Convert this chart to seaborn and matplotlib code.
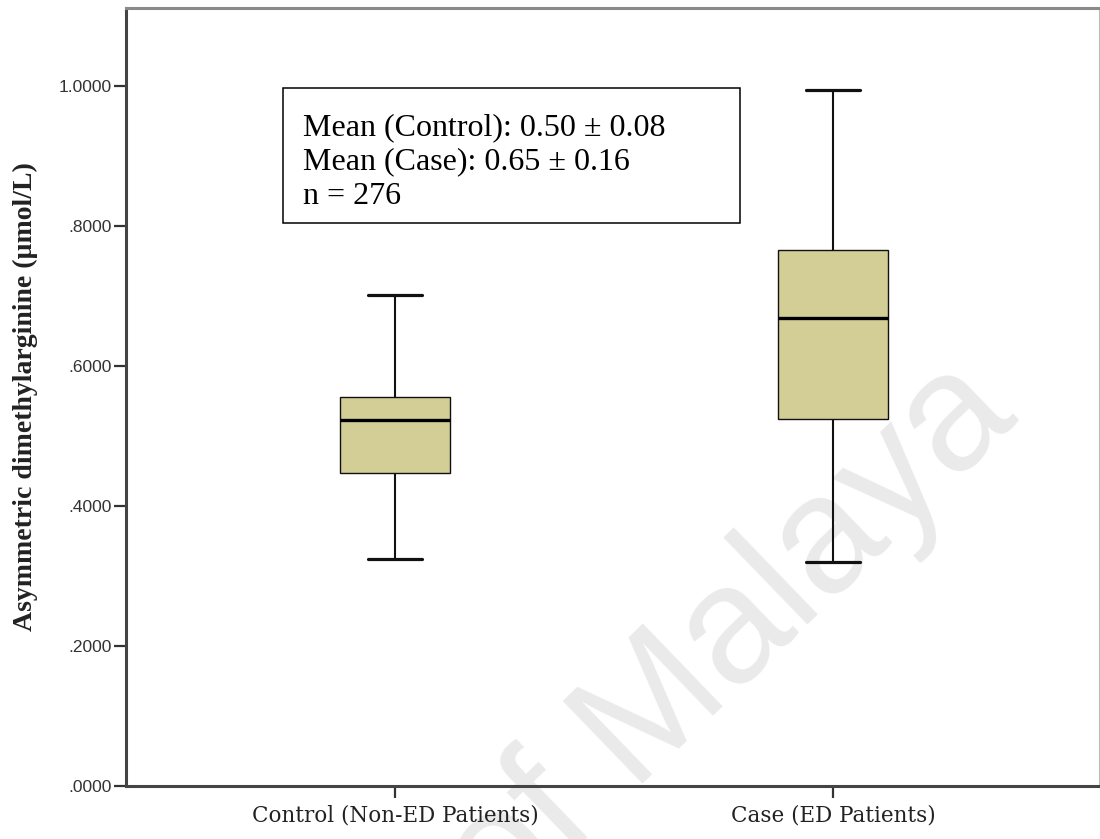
import matplotlib
matplotlib.use("Agg")
import numpy as np
import pandas as pd
import seaborn as sns
import matplotlib.pyplot as plt
from matplotlib.patches import Rectangle

# ---- data ----
groups = ["Control (Non-ED Patients)", "Case (ED Patients)"]
# min, Q1, median, Q3, max
control_values = [0.3245, 0.4477, 0.5233, 0.5558, 0.7021]
case_values = [0.3201, 0.5247, 0.6685, 0.7656, 0.9950]
y_ticks = [0.0, 0.2, 0.4, 0.6, 0.8, 1.0]
y_tick_labels = [".0000", ".2000", ".4000", ".6000", ".8000", "1.0000"]
annot_lines = ["Mean (Control): 0.50 \u00b1 0.08",
               "Mean (Case): 0.65 \u00b1 0.16",
               "n = 276"]
y_label = "Asymmetric dimethylarginine (\u00b5mol/L)"
watermark = "University of Malaya"

df = pd.DataFrame({
    "group": [groups[0]] * len(control_values) + [groups[1]] * len(case_values),
    "value": control_values + case_values,
})

sns.set_style("white")
W, H = 1100, 839
fig = plt.figure(figsize=(W / 100, H / 100), dpi=100)
ax = fig.add_axes([126 / W, 1 - 786 / H, 973 / W, 778 / H])
ax.patch.set_alpha(0)

sns.boxplot(
    data=df, x="group", y="value", order=groups, ax=ax,
    whis=(0, 100), width=0.25, color="#D2CE96", saturation=1,
    linecolor="#111111", linewidth=1.0, showfliers=False,
    medianprops=dict(color="black", linewidth=2.4),
    whiskerprops=dict(color="#111111", linewidth=1.5),
    capprops=dict(color="#111111", linewidth=2.3),
)

ax.set_xlim(-0.614, 1.607)
ax.set_ylim(0, 1.112)
ax.set_yticks(y_ticks)
ax.set_yticklabels(y_tick_labels, fontfamily="Liberation Sans", fontsize=12.5, color="#333333")
ax.set_xticks(range(len(groups)))
ax.set_xticklabels(groups, fontfamily="DejaVu Serif", fontsize=15.5, color="#222222")
ax.set_xlabel("")
ax.set_ylabel(y_label, fontfamily="Liberation Serif", fontweight="bold", fontsize=20,
              va="center", color="#222222")
ax.yaxis.set_label_coords(-0.103, 0.5)

ax.tick_params(axis="both", direction="out", length=8.5, width=1.6, color="#333333",
               left=True, bottom=True)
ax.tick_params(axis="y", pad=2)
ax.tick_params(axis="x", pad=5)

for side, col, lw in [("left", "#444444", 2.2), ("bottom", "#444444", 2.2),
                      ("top", "#8a8a8a", 2.2), ("right", "#bbbbbb", 0.8)]:
    ax.spines[side].set_visible(True)
    ax.spines[side].set_color(col)
    ax.spines[side].set_linewidth(lw)

# annotation box
ax.add_patch(Rectangle(((282.7 - 126) / 973, (786 - 222.7) / 778),
                       (740 - 282.7) / 973, (222.7 - 88.3) / 778,
                       transform=ax.transAxes, facecolor="white",
                       edgecolor="black", linewidth=1.1, zorder=5))
for line, base in zip(annot_lines, [135, 169.5, 203.5]):
    ax.text((302.7 - 126) / 973, (786 - base) / 778, line, transform=ax.transAxes,
            fontfamily="Liberation Serif", fontsize=23, va="baseline", ha="left",
            color="black", zorder=6)

# watermark
fig.text(1020 / W, 1 - 420 / H, watermark, rotation=44, rotation_mode="anchor",
         ha="right", va="baseline", fontsize=120, color="#EAEAEA",
         fontfamily="Liberation Sans", zorder=-1)

fig.savefig("out.png", dpi=100)
